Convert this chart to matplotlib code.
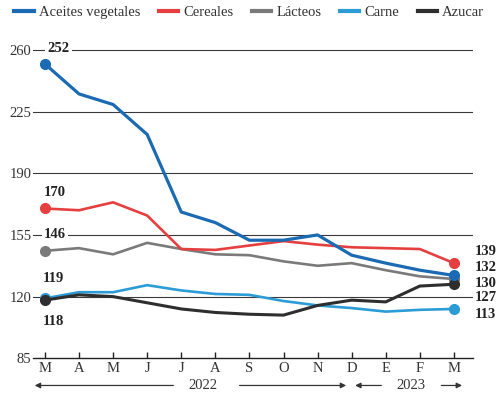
import matplotlib.pyplot as plt
from matplotlib.lines import Line2D

plt.rcParams['font.family'] = ['Liberation Serif', 'DejaVu Serif']

# ----- Data -----
months = ['M', 'A', 'M', 'J', 'J', 'A', 'S', 'O', 'N', 'D', 'E', 'F', 'M']
aceites = [252, 235, 229, 212, 168, 162, 152, 152, 155, 143.5, 139, 135, 132]
cereales = [170, 169, 173.5, 166, 147, 146.5, 149, 151.5, 149.5, 148, 147.5, 147, 139]
lacteos = [146, 147.5, 144, 150.5, 147, 144, 143.5, 140, 137.5, 139, 135, 131.5, 130]
carne = [119, 122.5, 122.5, 126.5, 123.5, 121.5, 121, 117.5, 115, 113.5, 111.5, 112.5, 113]
azucar = [118, 121, 120, 116.5, 113, 111, 110, 109.5, 115, 118, 117, 126, 127]
yticks = [85, 120, 155, 190, 225, 260]

series = [
    ("Aceites vegetales", aceites, "#1a6ab4", 2.3),
    ("Cereales", cereales, "#e5403f", 1.9),
    ("Lácteos", lacteos, "#7a7a7a", 1.9),
    ("Carne", carne, "#2b9cd6", 1.9),
    ("Azucar", azucar, "#2e2e2e", 2.2),
]
zorders = {"Lácteos": 3, "Cereales": 4, "Carne": 5, "Azucar": 6, "Aceites vegetales": 7}

fig = plt.figure(figsize=(4.97, 3.96), dpi=100)
ax = fig.add_axes([33 / 497, 1 - 358.3 / 396, 440 / 497, 312.3 / 396])

x = list(range(len(months)))
for name, vals, col, lw in series:
    z = zorders[name]
    ax.plot(x, vals, color=col, lw=lw, zorder=z, solid_capstyle='round')
    ax.plot([x[0], x[-1]], [vals[0], vals[-1]], 'o', color=col, ms=7, zorder=z + 0.5)

# gridlines
for yt in yticks[1:]:
    ax.axhline(yt, color="#3a3a3a", lw=0.8, zorder=1)

ax.set_xlim(-0.35, 12.56)
ax.set_ylim(85, 262.2)
ax.set_yticks(yticks)
ax.set_yticklabels([str(v) for v in yticks], fontsize=10.5, color="#333333")
ax.tick_params(axis='y', length=0, pad=1)
ax.set_xticks(x)
ax.set_xticklabels(months, fontsize=10.5, color="#333333")
ax.tick_params(axis='x', direction='in', length=4, width=1, color="#222222", pad=3)

for s in ['top', 'right', 'left']:
    ax.spines[s].set_visible(False)
ax.spines['bottom'].set_color("#222222")
ax.spines['bottom'].set_linewidth(1.0)

# start labels
box = dict(facecolor='white', edgecolor='none', pad=1.5)
start_labels = [("252", 0.4, 260.9), ("170", 0.3, 179.2), ("146", 0.3, 155),
                ("119", 0.25, 130), ("118", 0.25, 105.8)]
for txt, lx, ly in start_labels:
    ax.text(lx, ly, txt, fontsize=10.5, fontweight='bold', ha='center', va='center',
            color="#222222", bbox=box, zorder=8)

# end labels
end_labels = [("139", 145.5), ("132", 136.4), ("130", 127.6), ("127", 119.6), ("113", 110)]
for txt, ly in end_labels:
    ax.text(12.62, ly, txt, fontsize=10.5, fontweight='bold', ha='left', va='center',
            color="#222222", clip_on=False)

# year arrows
yy = -0.087
tr = ax.get_xaxis_transform()
arr = dict(arrowstyle='-|>', color="#333333", lw=0.9, mutation_scale=8)
ax.annotate('', xy=(-0.38, yy), xytext=(3.85, yy), xycoords=tr, textcoords=tr, arrowprops=arr)
ax.annotate('', xy=(8.92, yy), xytext=(5.63, yy), xycoords=tr, textcoords=tr, arrowprops=arr)
ax.text(4.64, yy, "2022", transform=tr, ha='center', va='center', fontsize=10.5, color="#333333")
ax.annotate('', xy=(9.02, yy), xytext=(9.95, yy), xycoords=tr, textcoords=tr, arrowprops=arr)
ax.annotate('', xy=(12.32, yy), xytext=(11.55, yy), xycoords=tr, textcoords=tr, arrowprops=arr)
ax.text(10.74, yy, "2023", transform=tr, ha='center', va='center', fontsize=10.5, color="#333333")

# legend
handles = [Line2D([0], [0], color=c, lw=3) for _, _, c, _ in series]
labels = [n for n, _, _, _ in series]
fig.legend(handles, labels, loc='upper left', bbox_to_anchor=(0.008, 1.01), ncol=5,
           frameon=False, fontsize=10.5, handlelength=1.35, handletextpad=0.35,
           columnspacing=1.25, labelcolor="#333333", borderaxespad=0.3)

fig.savefig("out.png", dpi=100, facecolor='white')
